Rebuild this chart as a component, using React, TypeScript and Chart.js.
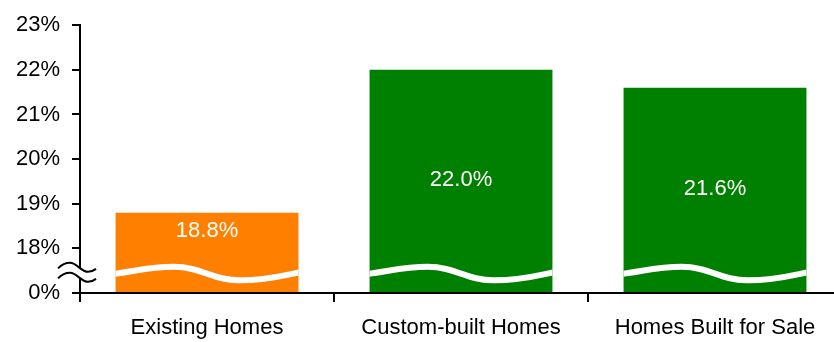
import React, { useEffect, useRef } from "react";
import { Chart, registerables } from "chart.js";

Chart.register(...registerables);

const categories = ["Existing Homes", "Custom-built Homes", "Homes Built for Sale"];
const values = [18.8, 22.0, 21.6];
const barColors = ["#FF8000", "#008000", "#008000"];
const axisMin = 17; // shown as 0% (broken axis)
const axisMax = 23;
const breakValue = 17.44; // where the wavy break crosses the bars
const FONT = '"Liberation Sans", Arial, sans-serif';

function wavePath(ctx: CanvasRenderingContext2D, L: number, R: number, yc: number) {
  const w = R - L;
  const X = (f: number) => L + f * w;
  ctx.moveTo(X(0), yc + 0.5);
  ctx.bezierCurveTo(X(0.12), yc - 2.5, X(0.2), yc - 6.5, X(0.32), yc - 6.5);
  ctx.bezierCurveTo(X(0.47), yc - 6.5, X(0.53), yc + 7, X(0.68), yc + 7);
  ctx.bezierCurveTo(X(0.82), yc + 7, X(0.92), yc + 2, X(1), yc - 1);
}

function axisWave(ctx: CanvasRenderingContext2D, x0: number, yc: number) {
  ctx.moveTo(x0, yc);
  ctx.bezierCurveTo(x0 + 4, yc - 4, x0 + 7, yc - 5.5, x0 + 12, yc - 5.5);
  ctx.bezierCurveTo(x0 + 19, yc - 5.5, x0 + 23, yc + 3.5, x0 + 30, yc + 3.5);
  ctx.bezierCurveTo(x0 + 34, yc + 3.5, x0 + 36, yc + 2, x0 + 38, yc + 0.5);
}

const breakPlugin = {
  id: "breakPlugin",
  afterDatasetsDraw(chart: any) {
    const ctx: CanvasRenderingContext2D = chart.ctx;
    const yScale = chart.scales.y;
    const meta = chart.getDatasetMeta(0);
    const yb = yScale.getPixelForValue(breakValue);
    meta.data.forEach((bar: any, i: number) => {
      const L = bar.x - bar.width / 2;
      const R = bar.x + bar.width / 2;
      ctx.save();
      ctx.beginPath();
      ctx.rect(L, bar.y, R - L, bar.base - bar.y);
      ctx.clip();
      ctx.beginPath();
      wavePath(ctx, L - 1, R + 1, yb);
      ctx.strokeStyle = "#FFFFFF";
      ctx.lineWidth = 6;
      ctx.stroke();
      ctx.restore();

      // data label
      const mid = (bar.y + bar.base) / 2 - 1;
      const ly = Math.min(mid, yb - 42);
      ctx.save();
      ctx.fillStyle = "#FFFFFF";
      ctx.font = `22px ${FONT}`;
      ctx.textAlign = "center";
      ctx.textBaseline = "middle";
      ctx.fillText(values[i].toFixed(1) + "%", bar.x, ly);
      ctx.restore();
    });
  },
  afterDraw(chart: any) {
    const ctx: CanvasRenderingContext2D = chart.ctx;
    const yScale = chart.scales.y;
    const yb = yScale.getPixelForValue(breakValue);
    const x0 = chart.chartArea.left - 22;
    const y1 = yb - 5;
    const y2 = yb + 5;
    ctx.save();
    ctx.beginPath();
    axisWave(ctx, x0, y1);
    ctx.lineTo(x0 + 38, y2 + 0.5);
    ctx.bezierCurveTo(x0 + 36, y2 + 2, x0 + 34, y2 + 3.5, x0 + 30, y2 + 3.5);
    ctx.bezierCurveTo(x0 + 23, y2 + 3.5, x0 + 19, y2 - 5.5, x0 + 12, y2 - 5.5);
    ctx.bezierCurveTo(x0 + 7, y2 - 5.5, x0 + 4, y2 - 4, x0, y2);
    ctx.closePath();
    ctx.fillStyle = "#FFFFFF";
    ctx.fill();
    ctx.beginPath();
    axisWave(ctx, x0, y1);
    ctx.moveTo(x0, y2);
    axisWave(ctx, x0, y2);
    ctx.strokeStyle = "#000000";
    ctx.lineWidth = 2;
    ctx.stroke();
    ctx.restore();
  },
};

export default function App() {
  const ref = useRef<HTMLCanvasElement>(null);
  useEffect(() => {
    if (!ref.current) return;
    const chart = new Chart(ref.current, {
      type: "bar",
      data: {
        labels: categories,
        datasets: [
          {
            data: values,
            backgroundColor: barColors,
            borderWidth: 0,
            barPercentage: 0.72,
            categoryPercentage: 1,
            base: axisMin,
          } as any,
        ],
      },
      options: {
        responsive: false,
        animation: false,
        events: [],
        layout: { padding: { top: 23, right: 8, left: 0, bottom: 0 } },
        plugins: { legend: { display: false }, tooltip: { enabled: false } },
        scales: {
          x: {
            grid: {
              offset: true,
              drawOnChartArea: false,
              drawTicks: true,
              tickLength: 9,
              color: "#000000",
              lineWidth: 2,
            },
            border: { color: "#000000", width: 2 },
            ticks: {
              color: "#000000",
              font: { family: FONT, size: 22 },
              padding: 13,
              maxRotation: 0,
              autoSkip: false,
            },
            afterFit(scale: any) {
              scale.height = 49;
            },
          },
          y: {
            min: axisMin,
            max: axisMax,
            grid: {
              drawOnChartArea: false,
              drawTicks: true,
              tickLength: 8,
              color: "#000000",
              lineWidth: 2,
            },
            border: { color: "#000000", width: 2 },
            ticks: {
              stepSize: 1,
              color: "#000000",
              font: { family: FONT, size: 22 },
              padding: 12,
              callback: (v: any) => (Number(v) === axisMin ? "0%" : v + "%"),
            },
            afterFit(scale: any) {
              scale.width = 80;
            },
          },
        },
      },
      plugins: [breakPlugin],
    });
    return () => chart.destroy();
  }, []);
  return (
    <div
      style={{
        position: "absolute",
        left: 0,
        top: 0,
        width: 834,
        height: 342,
        overflow: "hidden",
        background: "#FFFFFF",
      }}
    >
      <canvas ref={ref} width={850} height={342} style={{ width: 850, height: 342, display: "block" }} />
    </div>
  );
}
